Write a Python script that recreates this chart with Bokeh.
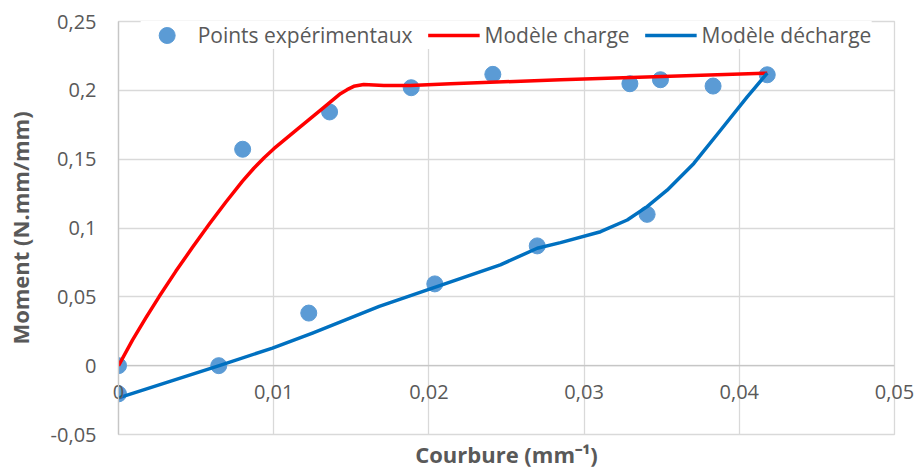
from bokeh.plotting import figure
from bokeh.models import FixedTicker, Range1d, Legend, Span
from bokeh.embed import file_html
from bokeh.resources import INLINE

# ---- data ----
pts_x = [0, 0, 0.00646, 0.01226, 0.0080, 0.0136, 0.01886, 0.02038, 0.02412,
         0.02698, 0.03295, 0.03406, 0.03492, 0.03831, 0.0418]
pts_y = [0, -0.0205, 0, 0.0382, 0.1572, 0.1843, 0.2019, 0.0594, 0.2116,
         0.087, 0.2048, 0.1099, 0.2077, 0.2031, 0.2113]

charge_x = [0, 0.0009, 0.00176, 0.00262, 0.00369, 0.00477, 0.00584, 0.00691,
            0.00799, 0.00872, 0.0094, 0.01001, 0.01151, 0.01302, 0.0143,
            0.01473, 0.01516, 0.0158, 0.0171, 0.01881, 0.0214, 0.02848, 0.0418]
charge_y = [0, 0.0185, 0.0347, 0.0502, 0.0685, 0.0860, 0.1027, 0.1187,
            0.1340, 0.1434, 0.1512, 0.1576, 0.1716, 0.1856, 0.1976,
            0.2005, 0.2029, 0.2043, 0.2036, 0.2036, 0.2048, 0.2077, 0.2125]

decharge_x = [0, 0.00649, 0.00992, 0.0125, 0.0168, 0.02023, 0.0246, 0.02698,
              0.02848, 0.03106, 0.03278, 0.03406, 0.03535, 0.03707, 0.03879,
              0.04051, 0.0418]
decharge_y = [-0.0234, 0, 0.0128, 0.0237, 0.043, 0.0563, 0.0732, 0.0853,
              0.0894, 0.0973, 0.1058, 0.1155, 0.1275, 0.1469, 0.171,
              0.1952, 0.2125]

x_ticks = [0, 0.01, 0.02, 0.03, 0.04, 0.05]
x_labels = ["0", "0,01", "0,02", "0,03", "0,04", "0,05"]
y_ticks = [-0.05, 0, 0.05, 0.1, 0.15, 0.2, 0.25]
y_labels = ["-0,05", "0", "0,05", "0,1", "0,15", "0,2", "0,25"]

FONT = "Open Sans"
TXT = "#595959"
GRID = "#d9d9d9"

p = figure(width=917, height=471, output_backend="svg", toolbar_location=None,
           x_range=Range1d(0, 0.05), y_range=Range1d(-0.05, 0.25),
           min_border_left=118, min_border_right=23, min_border_top=21,
           min_border_bottom=36)
p.background_fill_color = "white"
p.border_fill_color = "white"
p.outline_line_color = GRID
p.outline_line_width = 1.3

# grid
p.xgrid.ticker = FixedTicker(ticks=x_ticks)
p.ygrid.ticker = FixedTicker(ticks=y_ticks)
for g in (p.xgrid, p.ygrid):
    g.grid_line_color = GRID
    g.grid_line_width = 1.3

# horizontal axis line at y = 0
p.add_layout(Span(location=0, dimension="width", line_color="#c6c6c6",
                  line_width=1.3, level="underlay"))

# x axis: labels drawn just under the y = 0 line (Excel style)
xa = p.xaxis[0]
xa.ticker = FixedTicker(ticks=x_ticks)
xa.major_label_overrides = {t: l for t, l in zip(x_ticks, x_labels)}
xa.axis_line_color = None
xa.major_tick_line_color = None
xa.minor_tick_line_color = None
xa.major_tick_out = 0
xa.major_tick_in = 0
xa.major_label_standoff = -50
xa.major_label_text_font = FONT
xa.major_label_text_font_size = "20px"
xa.major_label_text_color = TXT
xa.axis_label = "Courbure (mm⁻¹)"
xa.axis_label_text_font = FONT
xa.axis_label_text_font_size = "22px"
xa.axis_label_text_font_style = "bold"
xa.axis_label_text_color = TXT
xa.axis_label_standoff = 37

# y axis
ya = p.yaxis[0]
ya.ticker = FixedTicker(ticks=y_ticks)
ya.major_label_overrides = {t: l for t, l in zip(y_ticks, y_labels)}
ya.axis_line_color = "#c6c6c6"
ya.axis_line_width = 1.3
ya.major_tick_line_color = None
ya.minor_tick_line_color = None
ya.major_tick_out = 0
ya.major_tick_in = 0
ya.major_label_standoff = 22
ya.major_label_text_font = FONT
ya.major_label_text_font_size = "20px"
ya.major_label_text_color = TXT
ya.axis_label = "Moment (N.mm/mm)"
ya.axis_label_text_font = FONT
ya.axis_label_text_font_size = "22px"
ya.axis_label_text_font_style = "bold"
ya.axis_label_text_color = TXT
ya.axis_label_standoff = 13

# data
r_pts = p.ellipse(pts_x, pts_y, width=16, height=16, width_units="screen",
                  height_units="screen", fill_color="#5b9bd5",
                  line_color="#5b9bd5")
r_ch = p.line(charge_x, charge_y, line_color="#ff0000", line_width=3.5,
              line_join="round")
r_de = p.line(decharge_x, decharge_y, line_color="#0070c0", line_width=3.5,
              line_join="round")

legend = Legend(items=[("Points expérimentaux", [r_pts]),
                       ("Modèle charge", [r_ch]),
                       ("Modèle décharge", [r_de])],
                orientation="horizontal", location="top_center",
                label_text_font=FONT, label_text_font_size="21px",
                label_text_color=TXT, glyph_width=52, glyph_height=20,
                label_height=20, label_standoff=5, spacing=15,
                padding=0, margin=0,
                background_fill_color="white", background_fill_alpha=1.0,
                border_line_color=None)
p.add_layout(legend, "center")

open("out.html", "w").write(file_html(p, INLINE))
